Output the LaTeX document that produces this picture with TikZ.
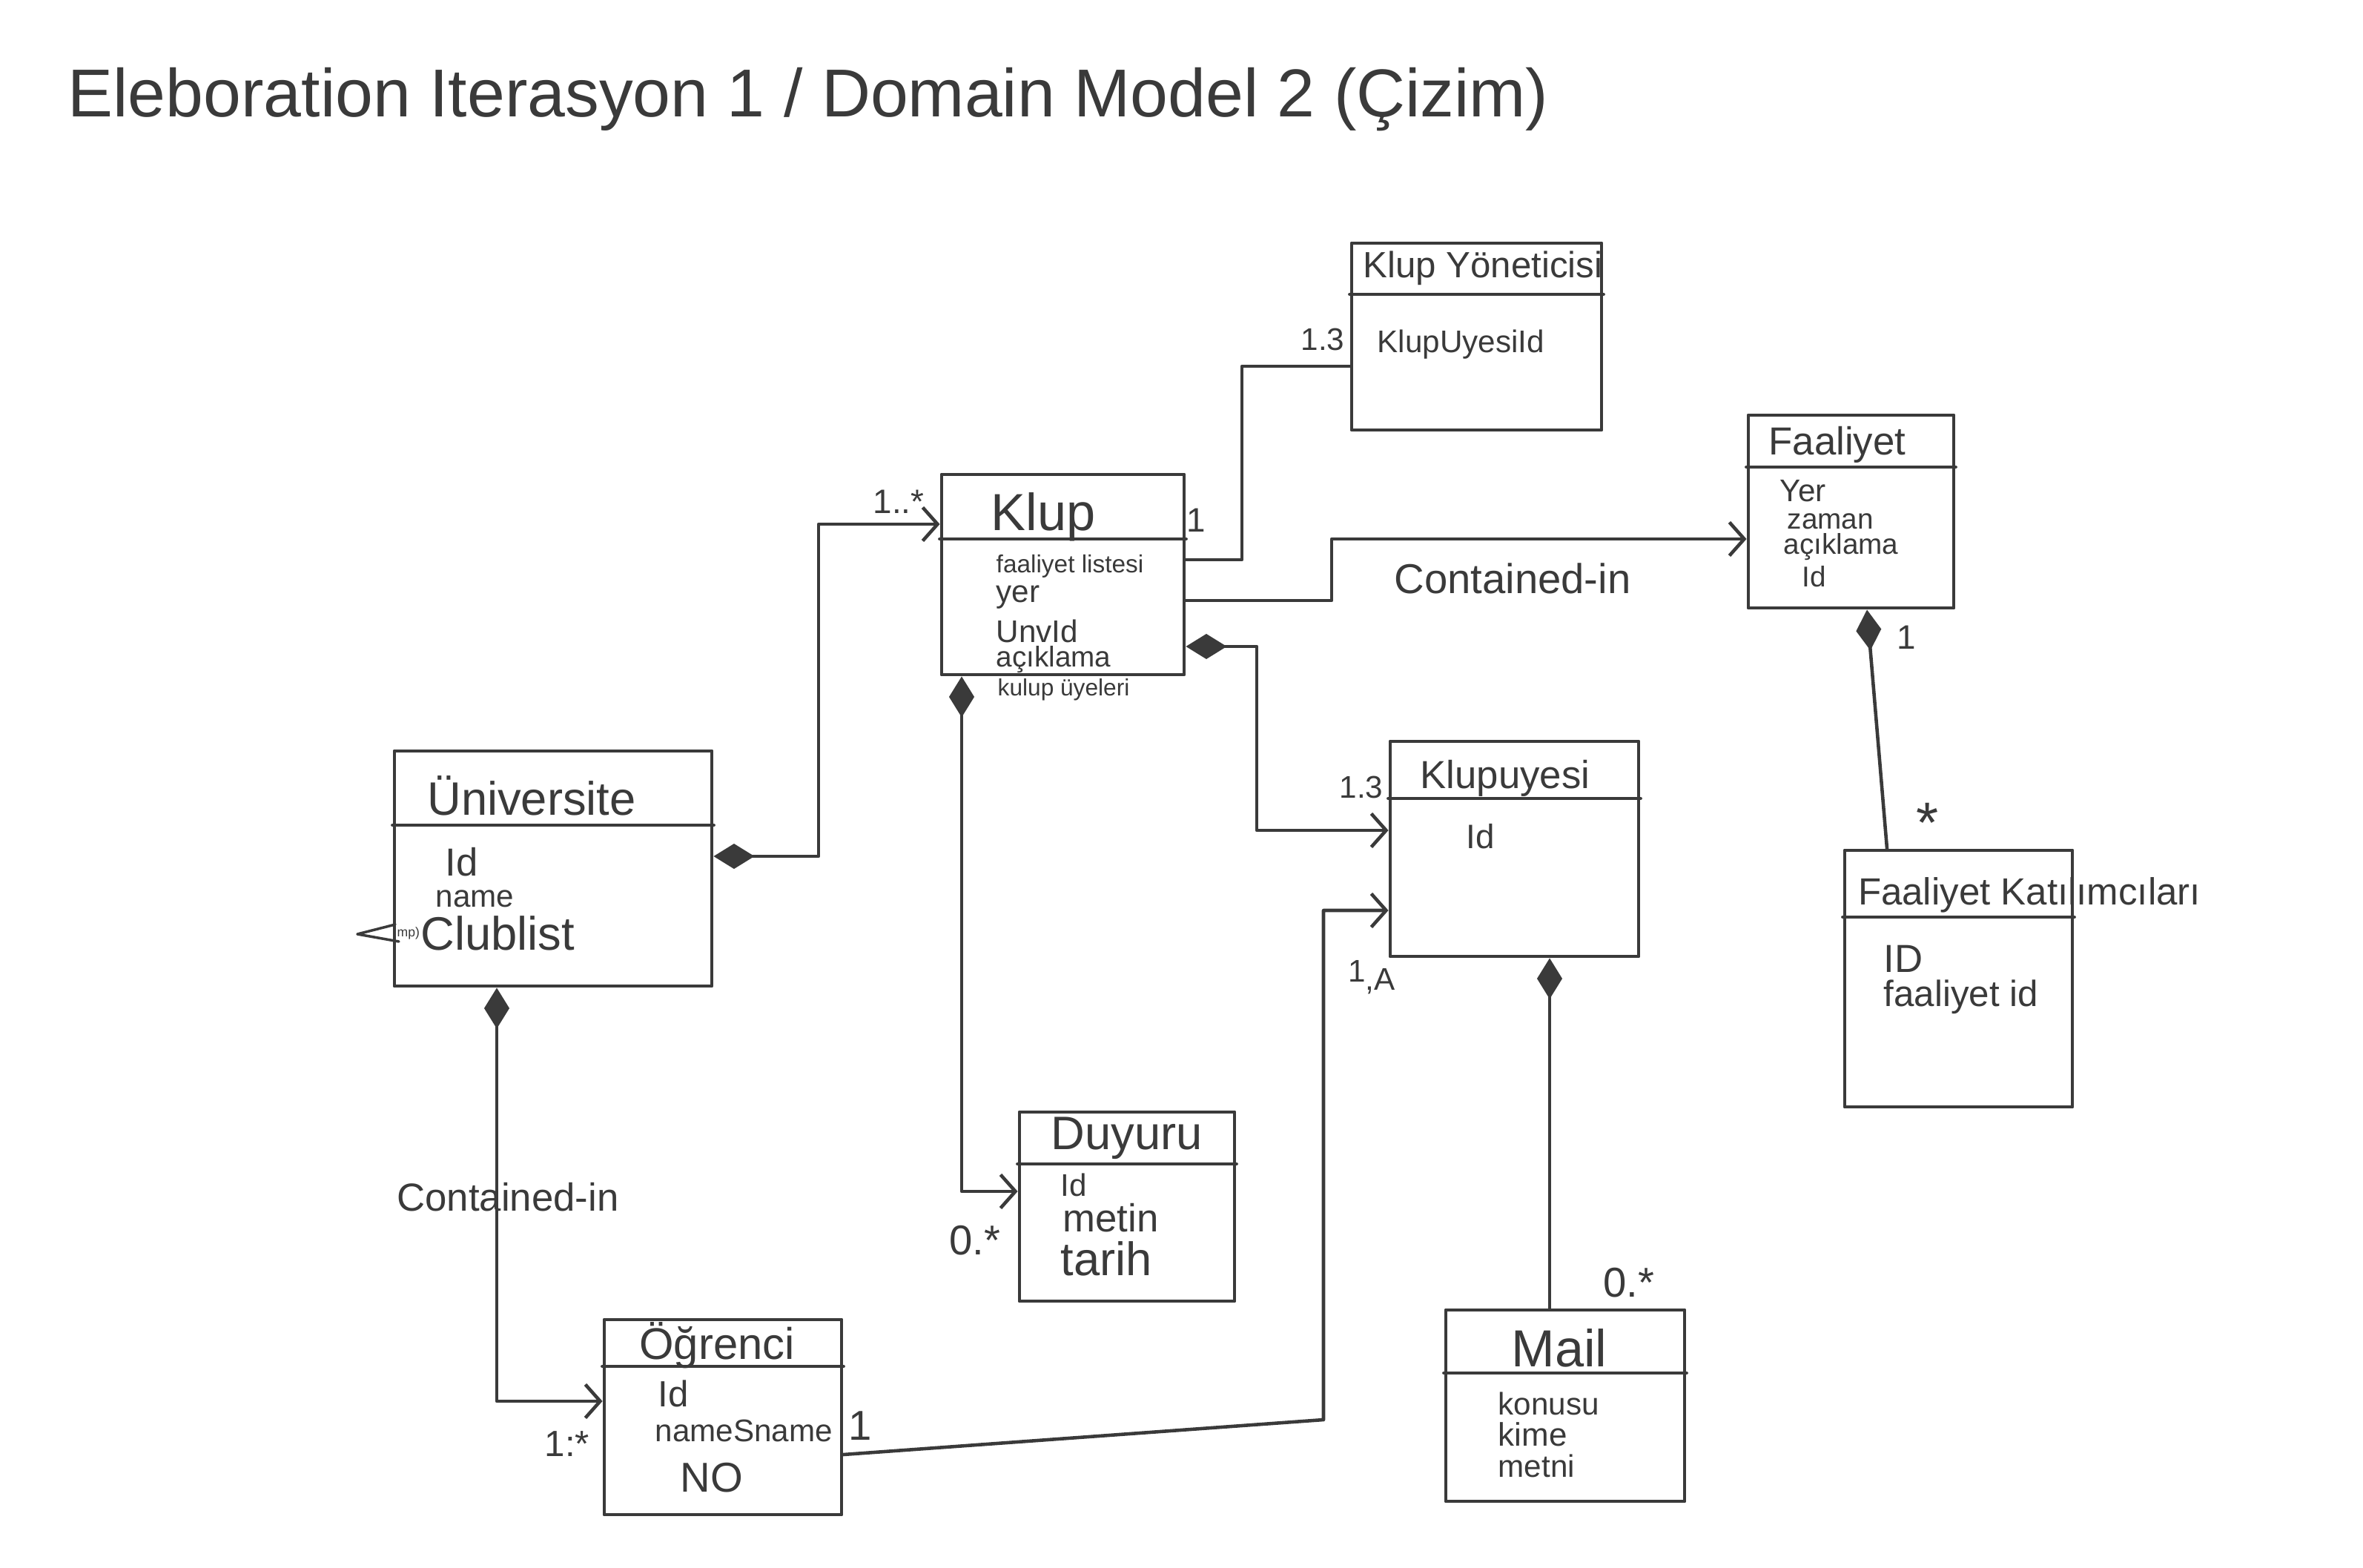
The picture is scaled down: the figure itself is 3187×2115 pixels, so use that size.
\documentclass[tikz,border=0pt]{standalone}
\usepackage{fontspec}
\setmainfont{Liberation Sans}
\usetikzlibrary{arrows.meta,fit}
\definecolor{pencil}{HTML}{3A3A3A}
\newcommand{\fs}[1]{\fontsize{#1}{#1}\selectfont}
\newcommand{\umlclass}[6]{%
  \coordinate (#1-nw) at (#2,#3);
  \coordinate (#1-se) at (#4,#5);
  \node[classbox, fit=(#1-nw)(#1-se)] (#1) {};
  \draw[divider] (#1.west |- 0,#6) -- (#1.east |- 0,#6);}
\begin{document}
\begin{tikzpicture}[x=0.01cm, y=-0.01cm,
  line cap=round, line join=round,
  classbox/.style={draw=pencil, line width=1.4pt, inner sep=0pt},
  divider/.style={draw=pencil, line width=1.4pt},
  conn/.style={draw=pencil, line width=1.3pt},
  comp/.style={conn, {Diamond[length=5.5mm,width=3.4mm]}-},
  comparr/.style={conn, {Diamond[length=5.5mm,width=3.4mm]}-{Straight Barb[length=2mm,width=4.5mm]}},
  nav/.style={conn, -{Straight Barb[length=2mm,width=4.5mm]}},
  txt/.style={text=pencil, inner sep=0pt},
  ttl/.style={txt, anchor=center},
  attr/.style={txt, anchor=west},
  mult/.style={txt, anchor=center}]
\fill[white] (0,0) rectangle (3187,2115);
\useasboundingbox (0,0) rectangle (3187,2115);

% title
\node[txt, anchor=base west, font=\fs{26}] (title) at (91,157) {Eleboration Iterasyon 1 / Domain Model 2 (Çizim)};

% classes
\umlclass{kyon}{1823}{328}{2160}{580}{397}
\umlclass{klup}{1270}{640}{1597}{910}{727}
\umlclass{faal}{2358}{560}{2635}{820}{630}
\umlclass{univ}{532}{1013}{960}{1330}{1113}
\umlclass{kuye}{1875}{1000}{2210}{1290}{1077}
\umlclass{fkat}{2488}{1147}{2795}{1493}{1237}
\umlclass{duy}{1375}{1500}{1665}{1755}{1570}
\umlclass{ogr}{815}{1780}{1135}{2043}{1843}
\umlclass{mail}{1950}{1767}{2272}{2025}{1852}

% class names
\node[ttl, font=\fs{14}] (kyon-t) at (2000,362) {Klup Yöneticisi};
\node[ttl, font=\fs{20}] (klup-t) at (1407,697) {Klup};
\node[ttl, font=\fs{15}] (faal-t) at (2478,600) {Faaliyet};
\node[ttl, font=\fs{18}] (univ-t) at (717,1073) {Üniversite};
\node[ttl, font=\fs{15}] (kuye-t) at (2030,1050) {Klupuyesi};
\node[ttl, font=\fs{14.5}] (fkat-t) at (2737,1207) {Faaliyet Katılımcıları};
\node[ttl, font=\fs{18}] (duy-t) at (1520,1535) {Duyuru};
\node[ttl, font=\fs{17}] (ogr-t) at (967,1815) {Öğrenci};
\node[ttl, font=\fs{20}] (mail-t) at (2103,1818) {Mail};

% attributes
\node[attr, font=\fs{12}] (kyon-a1) at (1857,465) {KlupUyesiId};

\node[attr, font=\fs{9.5}] (klup-a1) at (1343,764) {faaliyet listesi};
\node[attr, font=\fs{12}] (klup-a2) at (1343,806) {yer};
\node[attr, font=\fs{12}] (klup-a3) at (1343,851) {UnvId};
\node[attr, font=\fs{11}] (klup-a4) at (1343,890) {açıklama};
\node[attr, font=\fs{9}] (klup-a5) at (1345,930) {kulup üyeleri};

\node[attr, font=\fs{12}] (faal-a1) at (2400,662) {Yer};
\node[attr, font=\fs{11}] (faal-a2) at (2410,703) {zaman};
\node[attr, font=\fs{11}] (faal-a3) at (2405,738) {açıklama};
\node[attr, font=\fs{11}] (faal-a4) at (2430,778) {Id};

\node[attr, font=\fs{15}] (univ-a1) at (600,1163) {Id};
\node[attr, font=\fs{12}] (univ-a2) at (587,1212) {name};
\node[attr, font=\fs{18}] (univ-a3) at (567,1259) {Clublist};
\node[attr, font=\fs{5}] (univ-mp) at (535,1259) {mp)};
\draw[conn, line width=1pt] (533,1247) -- (482,1260) -- (538,1270);

\node[attr, font=\fs{13}] (kuye-a1) at (1977,1128) {Id};

\node[attr, font=\fs{15}] (fkat-a1) at (2540,1293) {ID};
\node[attr, font=\fs{14}] (fkat-a2) at (2540,1345) {faaliyet id};

\node[attr, font=\fs{12}] (duy-a1) at (1430,1598) {Id};
\node[attr, font=\fs{15}] (duy-a2) at (1433,1643) {metin};
\node[attr, font=\fs{18}] (duy-a3) at (1430,1698) {tarih};

\node[attr, font=\fs{14}] (ogr-a1) at (887,1880) {Id};
\node[attr, font=\fs{12}] (ogr-a2) at (883,1930) {nameSname};
\node[attr, font=\fs{16}] (ogr-a3) at (917,1993) {NO};

\node[attr, font=\fs{12}] (mail-a1) at (2020,1893) {konusu};
\node[attr, font=\fs{12.5}] (mail-a2) at (2020,1935) {kime};
\node[attr, font=\fs{12}] (mail-a3) at (2020,1977) {metni};

% connectors
\draw[comparr] (univ.east |- 0,1155) -| (1104,707) -- (klup.west |- 0,707);
\draw[conn] (klup.east |- 0,755) -| (1675,494) -- (kyon.west |- 0,494);
\draw[nav] (klup.east |- 0,810) -| (1796,727) -- (faal.west |- 0,727);
\draw[comparr] (klup.east |- 0,872) -| (1695,1120) -- (kuye.west |- 0,1120);
\draw[comparr] (klup.south -| 1297,0) |- (duy.west |- 0,1607);
\draw[comparr] (univ.south -| 670,0) |- (ogr.west |- 0,1890);
\draw[nav] (ogr.east |- 0,1962) -- (1785,1915) |- (kuye.west |- 0,1228);
\draw[comp] (kuye.south -| 2090,0) -- (mail.north -| 2090,0);
\draw[comp] (faal.south -| 2518,0) -- (fkat.north -| 2545,0);

% labels
\node[mult, font=\fs{13}] (m1) at (1212,677) {1..*};
\node[mult, font=\fs{13}] (m2) at (1613,702) {1};
\node[mult, font=\fs{12}] (m3) at (1784,458) {1.3};
\node[mult, font=\fs{16}] (c1) at (2040,780) {Contained-in};
\node[mult, font=\fs{12}] (m4) at (1836,1062) {1.3};
\node[mult, font=\fs{12}] (m5) at (1850,1318) {1\raisebox{-0.5ex}{,A}};
\node[mult, font=\fs{14}] (m6) at (765,1948) {1:*};
\node[mult, font=\fs{16}] (m7) at (1160,1923) {1};
\node[mult, font=\fs{16}] (m8) at (1315,1673) {0.*};
\node[mult, font=\fs{16}] (m9) at (2197,1730) {0.*};
\node[mult, font=\fs{13}] (m10) at (2571,860) {1};
\node[mult, font=\fs{22}] (m11) at (2600,1110) {*};
\node[mult, font=\fs{15}] (c2) at (685,1615) {Contained-in};
\end{tikzpicture}
\end{document}
